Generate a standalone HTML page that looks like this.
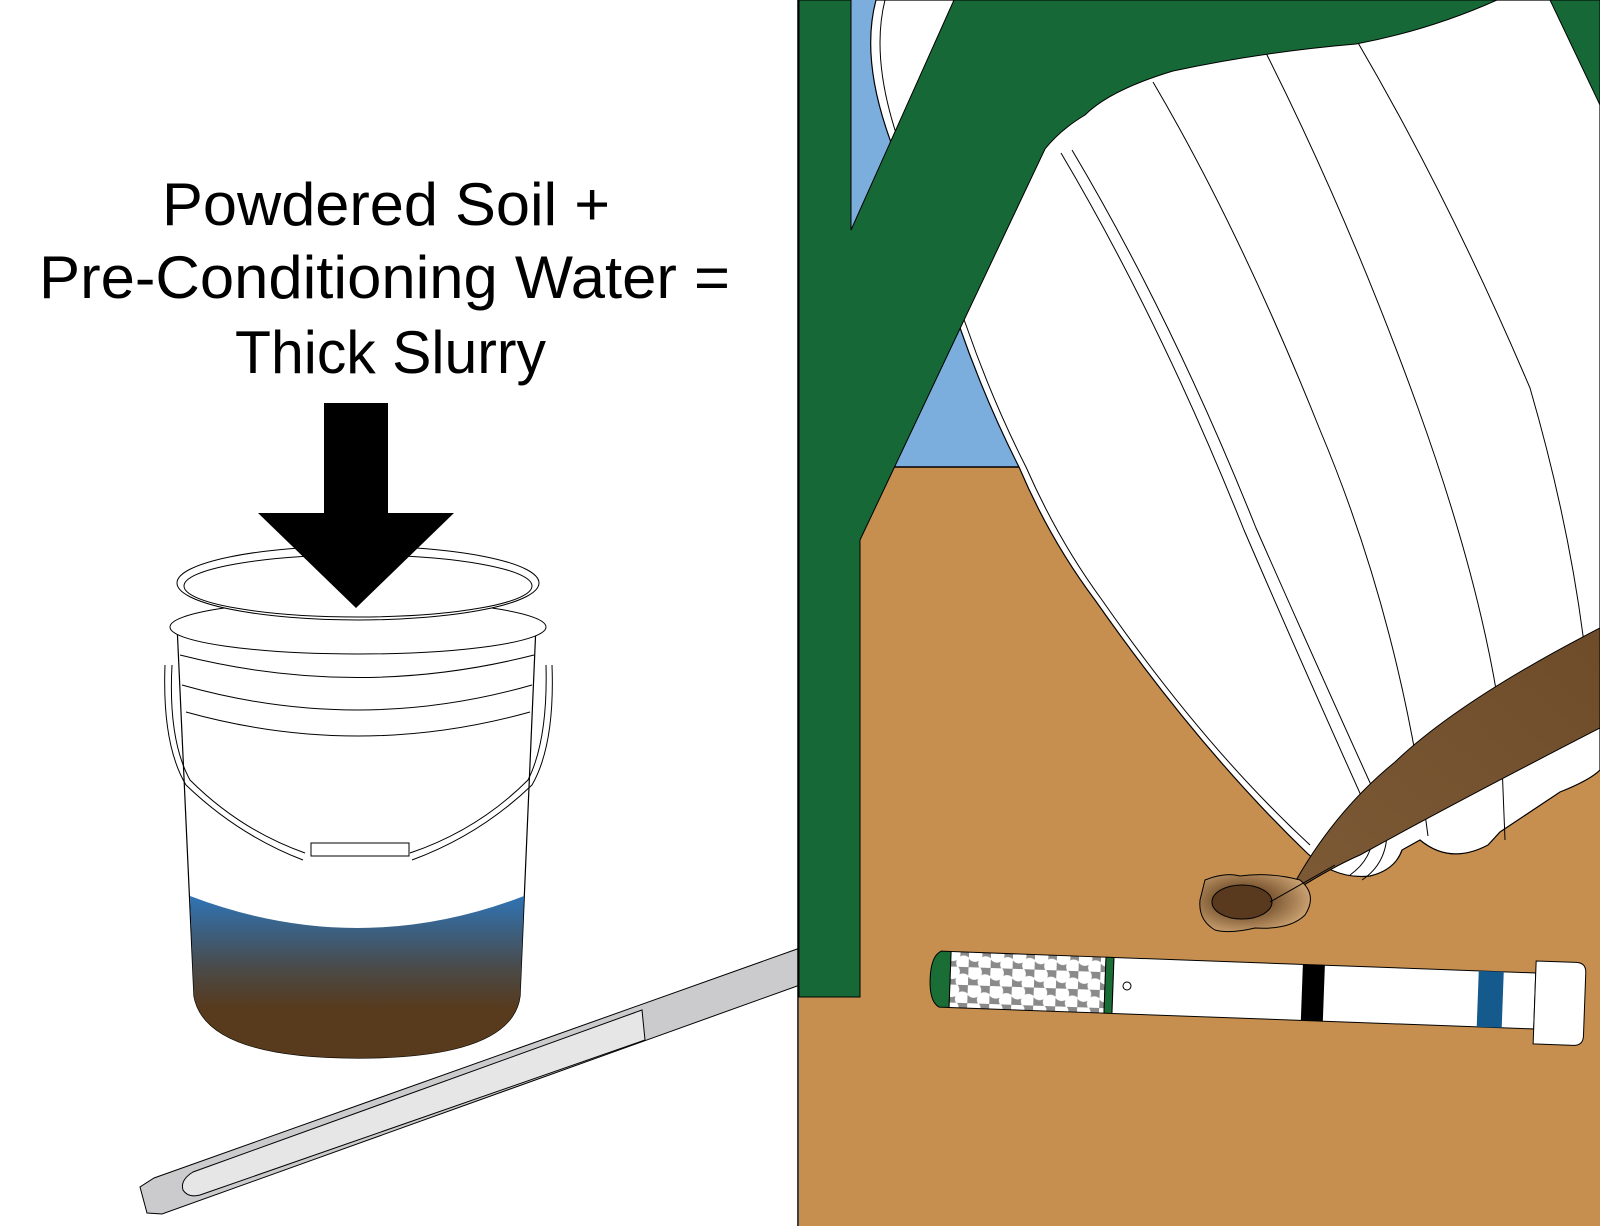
<!DOCTYPE html>
<html><head><meta charset="utf-8"><style>
html,body{margin:0;padding:0;background:#fff;}
svg{display:block;}
</style></head><body>
<svg width="1600" height="1226" viewBox="0 0 1600 1226" xmlns="http://www.w3.org/2000/svg">
<defs>
<linearGradient id="liq" x1="0" y1="0" x2="0" y2="1">
<stop offset="0" stop-color="#2f74b5"/>
<stop offset="0.45" stop-color="#4a4a48"/>
<stop offset="0.7" stop-color="#583a1c"/>
<stop offset="1" stop-color="#583a1c"/>
</linearGradient>
<linearGradient id="stream" x1="1" y1="0" x2="0" y2="1">
<stop offset="0" stop-color="#6e4c2a"/>
<stop offset="1" stop-color="#7d5a36"/>
</linearGradient>
<radialGradient id="puddle" cx="0.4" cy="0.45" r="0.6">
<stop offset="0.4" stop-color="#7a5530"/>
<stop offset="1" stop-color="#c9a070"/>
</radialGradient>
<pattern id="mesh" width="22" height="18" patternUnits="userSpaceOnUse">
<rect width="22" height="18" fill="#8a8a8a"/>
<circle cx="6" cy="5" r="7.5" fill="#fff"/>
<circle cx="17" cy="14" r="7.5" fill="#fff"/>
</pattern>
</defs>

<!-- LEFT PANEL -->
<g font-family="'Liberation Sans', Arial, sans-serif" font-size="60" fill="#000">
<text x="162" y="225" textLength="448" lengthAdjust="spacingAndGlyphs">Powdered Soil +</text>
<text x="39" y="298" textLength="691" lengthAdjust="spacingAndGlyphs">Pre-Conditioning Water =</text>
<text x="235" y="373" textLength="311" lengthAdjust="spacingAndGlyphs">Thick Slurry</text>
</g>

<!-- rod -->
<polygon points="800,948 800,985 162,1214 147,1213 140,1187 154,1178" fill="#cbcbcd" stroke="#000" stroke-width="1"/>
<path d="M642,1010 L193,1172 Q180,1180 183,1190 Q188,1198 200,1195 L645,1040 Z" fill="#e6e6e6" stroke="#000" stroke-width="1"/>

<!-- bucket left -->
<path d="M177,625 L194,996 Q205,1058 358,1058 Q512,1058 520,996 L536,625 Z" fill="#fff"/>
<path d="M177,625 L194,996 Q205,1058 358,1058 Q512,1058 520,996 L536,625" fill="none" stroke="#000" stroke-width="1.2"/>
<path d="M190,896 Q358,960 524,896 L520,996 Q512,1058 358,1058 Q205,1058 194,996 Z" fill="url(#liq)"/>
<path d="M180,655 Q358,700 534,655" fill="none" stroke="#000"/>
<path d="M182,685 Q358,735 532,685" fill="none" stroke="#000"/>
<path d="M186,712 Q358,760 530,712" fill="none" stroke="#000"/>
<ellipse cx="358" cy="627" rx="188" ry="27" fill="#fff" stroke="#000"/>
<ellipse cx="358" cy="583" rx="181" ry="37" fill="#fff" stroke="#000"/>
<ellipse cx="358" cy="586" rx="174" ry="31" fill="none" stroke="#000"/>
<path d="M172,665 Q168,740 190,780 Q240,830 305,853" fill="none" stroke="#000"/>
<path d="M165,665 Q162,745 186,785 Q238,835 303,860" fill="none" stroke="#000"/>
<path d="M546,665 Q548,740 528,780 Q478,830 410,853" fill="none" stroke="#000"/>
<path d="M552,665 Q555,745 532,785 Q480,835 412,860" fill="none" stroke="#000"/>
<rect x="311" y="843" width="98" height="13" fill="#fff" stroke="#000"/>

<!-- arrow -->
<polygon points="324,403 388,403 388,513 454,513 356,608 258,513 324,513" fill="#000"/>

<!-- divider -->
<line x1="798" y1="0" x2="798" y2="1226" stroke="#000" stroke-width="1.5"/>

<!-- RIGHT PANEL -->
<rect x="799" y="0" width="801" height="467" fill="#7caedd"/>
<rect x="799" y="467" width="801" height="759" fill="#c68f4f"/>
<line x1="860" y1="467" x2="1030" y2="467" stroke="#000" stroke-width="1.5"/>

<!-- bucket right -->
<path d="M876,0 Q860,60 892,145 L959,325 Q985,400 1019,467 Q1050,540 1095,600 Q1200,750 1307,853 Q1335,880 1370,876 Q1395,870 1402,850 L1420,840 Q1450,865 1488,845 L1500,832 L1560,792 Q1590,780 1600,770 L1600,0 Z" fill="#fff" stroke="#000" stroke-width="1.2"/>
<path d="M885,0 Q870,60 900,145 L966,325 Q992,400 1026,467 Q1058,540 1102,600 Q1205,748 1310,845" fill="none" stroke="#000" stroke-width="1"/>
<g fill="none" stroke="#000" stroke-width="1">
<path d="M1061,153 Q1160,320 1244,530 Q1300,660 1372,820 Q1378,855 1350,875"/>
<path d="M1072,150 Q1172,318 1256,528 Q1312,655 1386,818 Q1392,860 1362,880"/>
<path d="M1153,82 Q1240,230 1320,430 Q1400,620 1428,836"/>
<path d="M1265,51 Q1350,220 1418,408 Q1480,580 1500,714 L1505,840"/>
<path d="M1357,41 Q1450,200 1530,388 Q1580,560 1591,714"/>
</g>

<!-- stream -->
<path d="M1600,628 Q1460,700 1395,762 Q1330,815 1288,895 Q1330,868 1360,855 Q1460,800 1600,728 Z" fill="url(#stream)" stroke="#000" stroke-width="1"/>

<!-- puddle -->
<path d="M1205,880 Q1225,872 1240,876 Q1270,872 1300,880 Q1318,895 1305,915 Q1290,930 1255,928 Q1230,934 1215,930 Q1198,920 1200,900 Z" fill="url(#puddle)" stroke="#000" stroke-width="1"/>
<ellipse cx="1242" cy="902" rx="30" ry="17" fill="#5a3a1e" stroke="#000" stroke-width="1"/>
<path d="M1270,902 Q1300,885 1335,865" fill="none" stroke="#000" stroke-width="1"/>

<!-- green tree -->
<path d="M799,0 L851,0 L851,230 L954,0 L1497,0 Q1430,30 1356,44 Q1262,52 1173,71 Q1110,90 1085,115 Q1060,130 1045,149 L860,540 L860,997 L799,997 Z" fill="#166837" stroke="#000" stroke-width="1"/>
<path d="M1550,0 L1600,0 L1600,105 Z" fill="#166837" stroke="#000" stroke-width="1"/>

<!-- probe right -->
<g transform="rotate(2.1 1100 985)">
<path d="M950,957 L940,957 Q930,962 930,985 Q930,1008 940,1013 L950,1013 Z" fill="#1a6e35" stroke="#000"/>
<rect x="950" y="957" width="155" height="56" fill="url(#mesh)" stroke="#000"/>
<rect x="1105" y="957" width="8" height="56" fill="#1a6e35" stroke="#000"/>
<rect x="1113" y="957" width="422" height="56" fill="#fff" stroke="#000"/>
<rect x="1302" y="957" width="22" height="56" fill="#000"/>
<rect x="1478" y="957" width="25" height="56" fill="#145a8c"/>
<path d="M1535,945 L1575,945 Q1585,945 1585,955 L1585,1018 Q1585,1028 1575,1028 L1535,1028 Z" fill="#fff" stroke="#000"/>
<circle cx="1127" cy="985" r="4" fill="#fff" stroke="#000"/>
</g>
</svg>
</body></html>
